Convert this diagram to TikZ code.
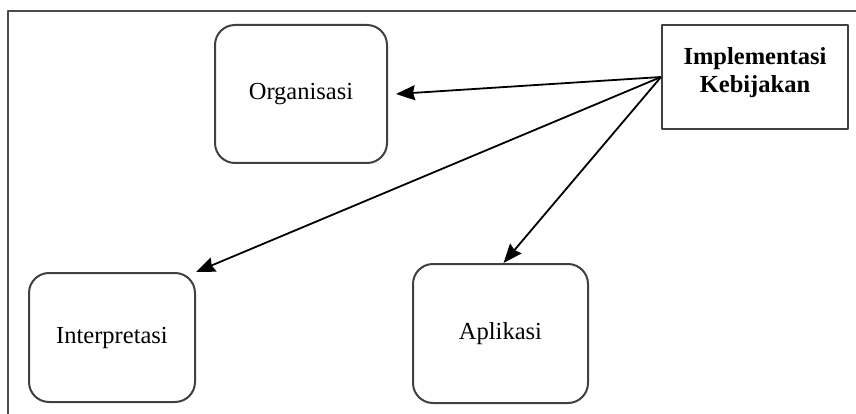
\documentclass[tikz,border=0pt]{standalone}
\usepackage{fontspec}
\setmainfont{Liberation Serif}
\usetikzlibrary{arrows.meta}
\begin{document}
\begin{tikzpicture}[x=1pt,y=-1pt,>={Stealth[length=19pt,width=15pt,inset=2pt]},line join=round,
		every node/.style={font=\fontsize{24.5}{28}\selectfont},
		rbox/.style={draw=black!75,line width=2pt,rounded corners=20pt,align=center},
		sbox/.style={draw=black!75,line width=2pt,align=center,font=\fontsize{24.5}{28}\selectfont\bfseries},
		conn/.style={->,line width=1.8pt}
	]
	\useasboundingbox (0,0) rectangle (856,414);
	% outer frame
	\draw[black!70,line width=2.4pt] (8,414)--(8,11)--(856,11);
	% boxes
	\node[sbox,minimum width=186pt,minimum height=104pt,text depth=14pt] (impl) at (755,77) {Implementasi\\Kebijakan};
	\node[rbox,minimum width=172pt,minimum height=138pt] (org) at (301,94) {Organisasi};
	\node[rbox,minimum width=166pt,minimum height=129pt] (interp) at (112,337.5) {Interpretasi};
	\node[rbox,minimum width=175pt,minimum height=139pt] (apl) at (500.5,333.5) {Aplikasi};
	% arrows
	\draw[conn] (impl.west)--([xshift=8pt]org.east);
	\draw[conn] (impl.west)--(interp.north east);
	\draw[conn] (impl.west)--([xshift=3pt]apl.north);
\end{tikzpicture}
\end{document}
